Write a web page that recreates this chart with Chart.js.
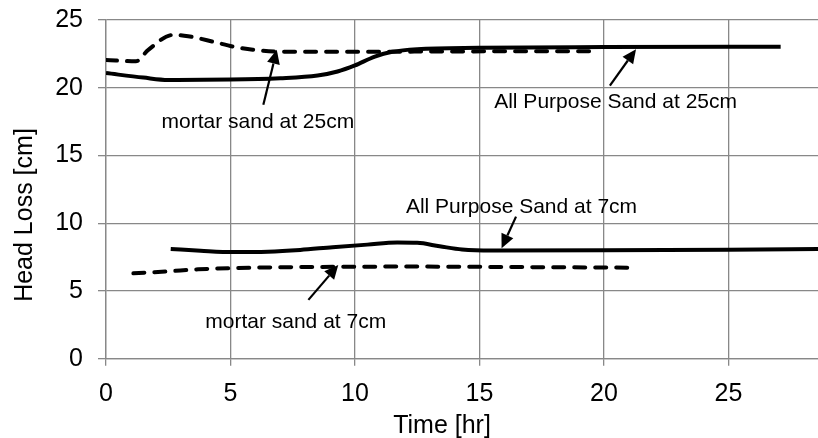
<!DOCTYPE html>
<html>
<head>
<meta charset="utf-8">
<script src="https://cdn.jsdelivr.net/npm/chart.js@4.4.0/dist/chart.umd.min.js"></script>
<style>
  html, body { margin: 0; padding: 0; background: #fff; }
</style>
</head>
<body>
<canvas id="headLossChart" width="818" height="438"></canvas>
<script>
// tick values
const timeTicks = [0, 5, 10, 15, 20, 25];
const lossTicks = [0, 5, 10, 15, 20, 25];

// All Purpose Sand at 25cm (solid)
const apSand25Time = [0, 1.5, 2.5, 5, 7, 8.5, 9.3, 10, 10.8, 11.5, 12.5, 15, 20, 27.1];
const apSand25Loss = [21.08, 20.75, 20.58, 20.6, 20.7, 20.9, 21.2, 21.65, 22.3, 22.65, 22.85, 22.95, 23.0, 23.03];

// mortar sand at 25cm (dashed)
const mortar25Time = [0, 1.2, 1.7, 2.7, 3.3, 4.3, 5.1, 5.9, 6.9, 10, 14, 19.7];
const mortar25Loss = [22.05, 21.95, 22.8, 23.9, 23.8, 23.4, 23.04, 22.8, 22.67, 22.65, 22.68, 22.7];

// All Purpose Sand at 7cm (solid)
const apSand7Time = [2.6, 3.8, 5.1, 6.5, 7.8, 9.1, 10.5, 11.7, 12.5, 13.4, 14.3, 15.5, 20, 25, 28.6];
const apSand7Loss = [8.1, 7.97, 7.87, 7.9, 8.03, 8.23, 8.42, 8.57, 8.55, 8.3, 8.06, 7.98, 8.0, 8.05, 8.1];

// mortar sand at 7cm (dashed)
const mortar7Time = [1.1, 2.5, 3.7, 5, 7, 9.3, 12, 15, 18, 21];
const mortar7Loss = [6.3, 6.45, 6.6, 6.68, 6.75, 6.78, 6.8, 6.78, 6.75, 6.72];

// callouts, in data units
const noteLabels = ['mortar sand at 25cm', 'All Purpose Sand at 25cm', 'All Purpose Sand at 7cm', 'mortar sand at 7cm'];
const noteTextAt = [[6.10, 17.01], [20.47, 18.49], [16.69, 10.74], [7.62, 2.24]];
const noteArrowFrom = [[6.32, 18.74], [20.24, 20.16], [16.47, 10.49], [8.13, 4.34]];
const noteArrowTo = [[6.86, 22.80], [21.29, 22.85], [15.89, 8.15], [9.33, 6.92]];

const FONT = '"Liberation Sans", Arial, sans-serif';

function pts(xs, ys) {
    return xs.map((v, i) => ({ x: v, y: ys[i] }));
}

function series(label, xs, ys, dashed) {
    return {
        label: label,
        data: pts(xs, ys),
        borderColor: '#000',
        borderWidth: 4,
        borderDash: dashed ? [11, 10] : [],
        borderCapStyle: dashed ? 'round' : 'butt',
        cubicInterpolationMode: 'monotone',
        pointRadius: 0,
        pointHoverRadius: 0,
        fill: false
    };
}

// draws the callout texts with arrows and the axis titles
const notesPlugin = {
    id: 'notes',
    afterDatasetsDraw(chart) {
        const ctx = chart.ctx;
        const x = chart.scales.x, y = chart.scales.y;
        ctx.save();
        ctx.fillStyle = '#000';
        ctx.strokeStyle = '#000';
        ctx.font = '21px ' + FONT;
        ctx.textAlign = 'center';
        ctx.textBaseline = 'alphabetic';
        noteLabels.forEach((txt, i) => {
            ctx.fillText(txt, x.getPixelForValue(noteTextAt[i][0]), y.getPixelForValue(noteTextAt[i][1]));
            const x0 = x.getPixelForValue(noteArrowFrom[i][0]), y0 = y.getPixelForValue(noteArrowFrom[i][1]);
            const x1 = x.getPixelForValue(noteArrowTo[i][0]), y1 = y.getPixelForValue(noteArrowTo[i][1]);
            const ang = Math.atan2(y1 - y0, x1 - x0);
            const head = 14, half = 6.5;
            const bx = x1 - head * Math.cos(ang), by = y1 - head * Math.sin(ang);
            ctx.lineWidth = 2.2;
            ctx.beginPath();
            ctx.moveTo(x0, y0);
            ctx.lineTo(bx, by);
            ctx.stroke();
            ctx.beginPath();
            ctx.moveTo(x1, y1);
            ctx.lineTo(bx + half * Math.sin(ang), by - half * Math.cos(ang));
            ctx.lineTo(bx - half * Math.sin(ang), by + half * Math.cos(ang));
            ctx.closePath();
            ctx.fill();
        });
        ctx.font = '25px ' + FONT;
        ctx.fillText('Time [hr]', 442, 433);
        ctx.translate(32, 215);
        ctx.rotate(-Math.PI / 2);
        ctx.fillText('Head Loss [cm]', 0, 0);
        ctx.restore();
    }
};

const gridColor = '#888888';

new Chart(document.getElementById('headLossChart').getContext('2d'), {
    type: 'line',
    data: {
        datasets: [
            series('mortar sand at 25cm', mortar25Time, mortar25Loss, true),
            series('All Purpose Sand at 25cm', apSand25Time, apSand25Loss, false),
            series('mortar sand at 7cm', mortar7Time, mortar7Loss, true),
            series('All Purpose Sand at 7cm', apSand7Time, apSand7Loss, false)
        ]
    },
    options: {
        responsive: false,
        animation: false,
        layout: { padding: { top: 20, right: 0, bottom: 0, left: 0 } },
        plugins: {
            legend: { display: false },
            tooltip: { enabled: false }
        },
        scales: {
            x: {
                type: 'linear',
                min: 0,
                max: 28.6,
                afterBuildTicks: (scale) => { scale.ticks = timeTicks.map(v => ({ value: v })); },
                afterFit: (scale) => {
                    scale.height = 79.3;
                    scale.paddingLeft = 0;
                    scale.paddingRight = 0;
                },
                grid: { color: gridColor, lineWidth: 1.3, tickLength: 7 },
                border: { color: gridColor, width: 1.3 },
                ticks: { color: '#000', font: { family: FONT, size: 25 }, padding: 13, maxRotation: 0 }
            },
            y: {
                min: 0,
                max: 25,
                afterBuildTicks: (scale) => { scale.ticks = lossTicks.map(v => ({ value: v })); },
                afterFit: (scale) => {
                    scale.width = 106;
                    scale.paddingTop = 0;
                    scale.paddingBottom = 0;
                },
                grid: { color: gridColor, lineWidth: 1.3, tickLength: 8 },
                border: { color: gridColor, width: 1.3 },
                ticks: { color: '#000', font: { family: FONT, size: 25 }, padding: 15 }
            }
        }
    },
    plugins: [notesPlugin]
});
</script>
</body>
</html>
